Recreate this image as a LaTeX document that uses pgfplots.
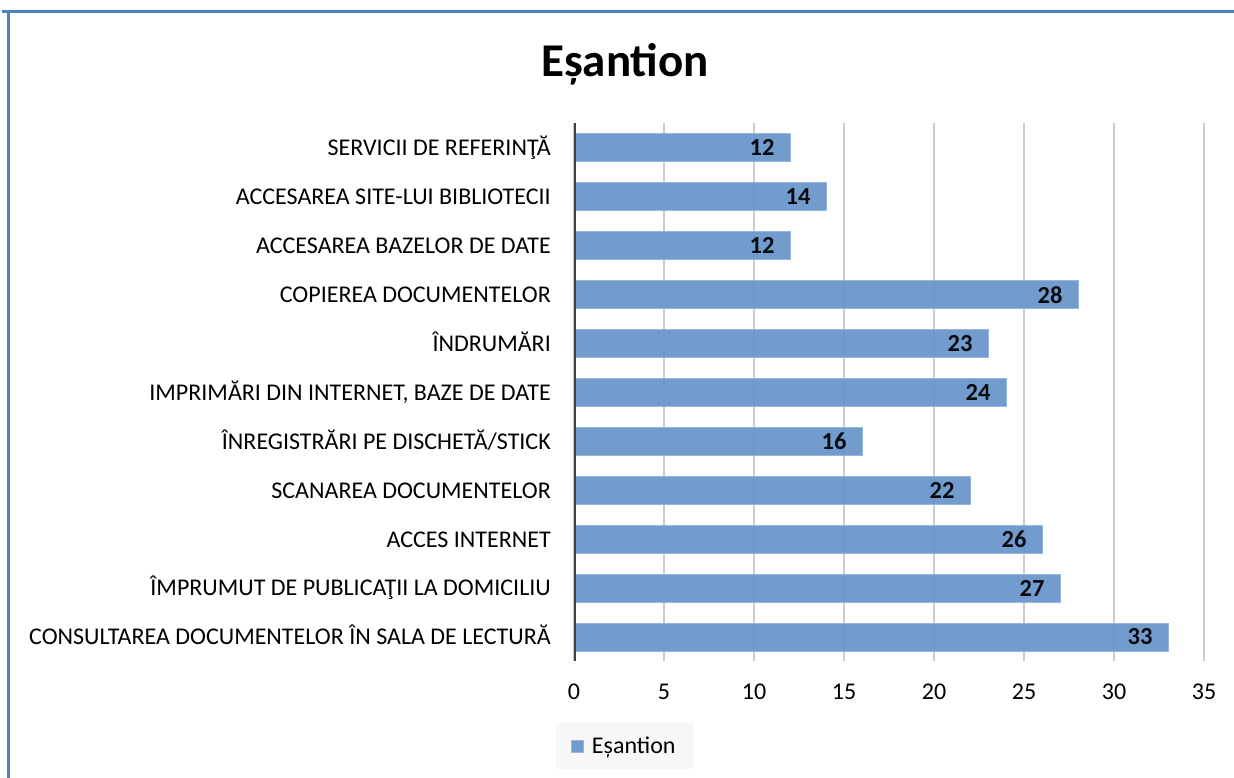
\documentclass[border=0pt]{standalone}
\usepackage{pgfplots}
\pgfplotsset{compat=1.18}
\usepackage{fontspec}
\setmainfont{Carlito}
\definecolor{barblue}{RGB}{103,149,201}
\definecolor{baredge}{RGB}{150,182,220}
\definecolor{framec}{RGB}{79,129,189}
\definecolor{axisdark}{RGB}{64,64,64}
\begin{document}
\begin{tikzpicture}[x=1pt,y=1pt]
\useasboundingbox (0,0) rectangle (1234,778);
% frame
\draw[framec, line width=3pt] (2,766) -- (1234,766);
\draw[framec, line width=3pt] (8.5,767.5) -- (8.5,0);
% title
\node[font=\bfseries\fontsize{47}{56}\selectfont] at (625,714) {Eșantion};
\begin{axis}[
  at={(574pt,116.5pt)}, anchor=south west,
  scale only axis, width=630pt, height=538pt,
  xmin=0, xmax=35, ymin=-0.5, ymax=10.5,
  xbar, bar width=28pt,
  xtick={0,5,...,35},
  ytick={0,...,10},
  yticklabels={
    {CONSULTAREA DOCUMENTELOR ÎN SALA DE LECTURĂ},
    {ÎMPRUMUT DE PUBLICAŢII LA DOMICILIU},
    {ACCES INTERNET},
    {SCANAREA DOCUMENTELOR},
    {ÎNREGISTRĂRI PE DISCHETĂ/STICK},
    {IMPRIMĂRI DIN INTERNET, BAZE DE DATE},
    {ÎNDRUMĂRI},
    {COPIEREA DOCUMENTELOR},
    {ACCESAREA BAZELOR DE DATE},
    {ACCESAREA SITE-LUI BIBLIOTECII},
    {SERVICII DE REFERINŢĂ}},
  major tick length=0pt,
  axis line style={draw=none},
  xmajorgrids, major grid style={draw=black!20, line width=1.4pt},
  /pgf/number format/assume math mode=true,
  xticklabel style={font=\fontsize{24}{24}\selectfont, anchor=center, inner sep=0pt, yshift=-30.5pt},
  yticklabel style={font=\fontsize{24}{24}\selectfont, anchor=base east, inner sep=0pt, xshift=-23pt, yshift=-7.8pt},
  nodes near coords,
  point meta=x,
  every node near coord/.append style={anchor=east, inner sep=0pt, xshift=-15pt, font=\bfseries\fontsize{24.5}{24}\selectfont, text=black},
  legend style={at={(axis description cs:-0.0286,-0.1143)}, anchor=north west,
    fill=black!3, draw=none, font=\fontsize{24}{24}\selectfont,
    inner xsep=15pt, inner ysep=12pt,
    /tikz/every odd column/.append style={column sep=6pt}},
  legend image code/.code={\draw[fill=barblue, draw=baredge, line width=0.8pt] (0pt,-6pt) rectangle (12pt,6pt);},
]
\addplot[fill=barblue, draw=baredge, line width=1pt, fill opacity=0.93] coordinates {
  (33,0) (27,1) (26,2) (22,3) (16,4) (24,5) (23,6) (28,7) (12,8) (14,9) (12,10)
};
\addlegendentry{Eșantion}
\draw[axisdark, line width=3.5pt] (axis cs:0,-0.5) -- (axis cs:0,10.5);
\end{axis}
\end{tikzpicture}
\end{document}
